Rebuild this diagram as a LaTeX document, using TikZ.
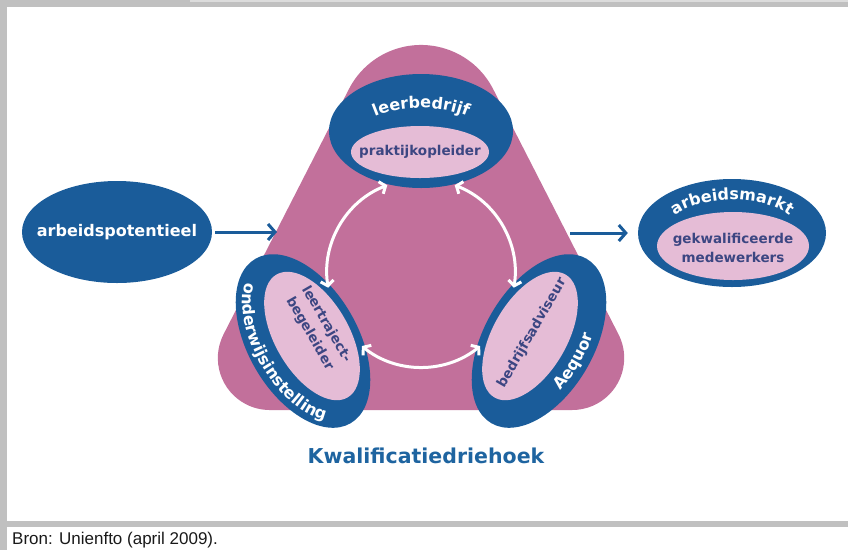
\documentclass[tikz,border=0pt]{standalone}
\usepackage{fontspec}
\setsansfont{DejaVu Sans}
\newfontfamily\bronfont{Liberation Sans}
\usetikzlibrary{shapes.geometric,arrows.meta,decorations.text}

\definecolor{kdblue}{HTML}{1A5C9A}
\definecolor{kdpink}{HTML}{C2709B}
\definecolor{kdlight}{HTML}{E5BCD6}
\definecolor{kdtext}{HTML}{3C4682}
\definecolor{kdtitle}{HTML}{1E64A0}
\definecolor{kdgray}{HTML}{C0C0C0}

\newcommand\ringfont{\sffamily\bfseries\fontsize{16}{16}\selectfont}
\newcommand\corefont{\sffamily\bfseries\fontsize{13.5}{19}\selectfont}

\tikzstyle{ring} = [ellipse, fill=kdblue, inner sep=0pt]
\tikzstyle{core} = [ellipse, fill=kdlight, inner sep=0pt]
\tikzstyle{coretext} = [text=kdtext, font=\corefont, align=center, inner sep=0pt]
\tikzstyle{flow} = [draw=kdblue, line width=3pt, -{Straight Barb[length=7pt,width=16pt]}]
\tikzstyle{cycarrow} = [draw=white, line width=3pt, {Straight Barb[length=5pt,width=13pt]}-{Straight Barb[length=5pt,width=13pt]}]

\begin{document}
\begin{tikzpicture}[x=1pt, y=1pt]
        \tikzset{ringlabel/.style={decorate, decoration={text along path, text={|\ringfont|#1}, text align=center, text color=white}}}
        \useasboundingbox (0,0) rectangle (848,-550);

        % grey frame lines
        \fill[kdgray] (0,0) rectangle (848,-7);
        \fill[kdgray!55] (190,0) rectangle (848,-2);
        \fill[kdgray] (0,0) rectangle (7,-550);
        \fill[kdgray] (0,-521) rectangle (848,-527);

        % rounded triangle in the middle
        \fill[kdpink] (269.8,-410) -- (572.2,-410) arc[start angle=-90, end angle=27, radius=52]
            -- (493.2,-89.2) arc[start angle=27, end angle=153, radius=81]
            -- (223.5,-334.4) arc[start angle=153, end angle=270, radius=52] -- cycle;

        % outer nodes left and right
        \node[ring, minimum width=190, minimum height=102] (potentieel) at (117,-232) {};
        \node[text=white, font=\ringfont] (potlabel) at (potentieel) {arbeidspotentieel};
        \node[ring, minimum width=188, minimum height=108] (markt) at (732,-233) {};
        \node[core, minimum width=152, minimum height=68] (marktin) at (733,-246) {};
        \node[coretext] (medewerkers) at (733,-248) {gekwalificeerde\\medewerkers};

        % the three corners of the triangle
        \node[ring, minimum width=184, minimum height=114] (bedrijf) at (421,-131) {};
        \node[core, minimum width=138, minimum height=52] (bedrijfin) at (420,-152) {};
        \node[coretext] (opleider) at (bedrijfin) {praktijkopleider};

        \node[ring, minimum width=190, minimum height=110, rotate=-60] (school) at (303,-341) {};
        \node[core, minimum width=142, minimum height=74, rotate=-60] (schoolin) at (312,-336) {};
        \node[coretext, rotate=-60] (begeleider) at (318,-329) {leertraject-\\begeleider};

        \node[ring, minimum width=190, minimum height=110, rotate=60] (aequor) at (539,-341) {};
        \node[core, minimum width=142, minimum height=74, rotate=60] (aequorin) at (530,-336) {};
        \node[coretext, rotate=60] (adviseur) at (532,-333) {bedrijfsadviseur};

        % curved names on the blue rings
        \path[ringlabel=leerbedrijf, shift={(421,-140)}] (160:68 and 32) arc[start angle=160, end angle=20, x radius=68, y radius=32];
        \path[ringlabel=arbeidsmarkt, shift={(732,-236)}] (160:70 and 36) arc[start angle=160, end angle=20, x radius=70, y radius=36];
        \path[ringlabel=onderwijsinstelling, shift={(school.center)}, rotate=-60] (182:88 and 48) arc[start angle=182, end angle=358, x radius=88, y radius=48];
        \path[ringlabel=Aequor, shift={(aequor.center)}, rotate=60] (185:85 and 47) arc[start angle=185, end angle=355, x radius=85, y radius=47];

        % in and out
        \coordinate (intri) at (277,-232);
        \coordinate (outtri) at (570,-233);
        \draw[flow, shorten <=3pt] (potentieel) -- (intri);
        \draw[flow, shorten >=10pt] (outtri) -- (markt);

        % white arrows between the corners
        \coordinate (hub) at (421,-273);
        \foreach \a in {111,231,351}
            \draw[cycarrow] ([shift={(\a:94)}]hub) arc[start angle=\a, end angle=\a+78, radius=94];

        \node[anchor=base, text=kdtitle, font=\sffamily\bfseries\fontsize{20.5}{24}\selectfont] (title) at (426,-463) {Kwalificatiedriehoek};
        \node[anchor=base west, inner sep=0pt, text=black!90, font=\bronfont\fontsize{17}{20}\selectfont] (bron) at (12,-544) {Bron: Unienfto (april 2009).};
\end{tikzpicture}
\end{document}
